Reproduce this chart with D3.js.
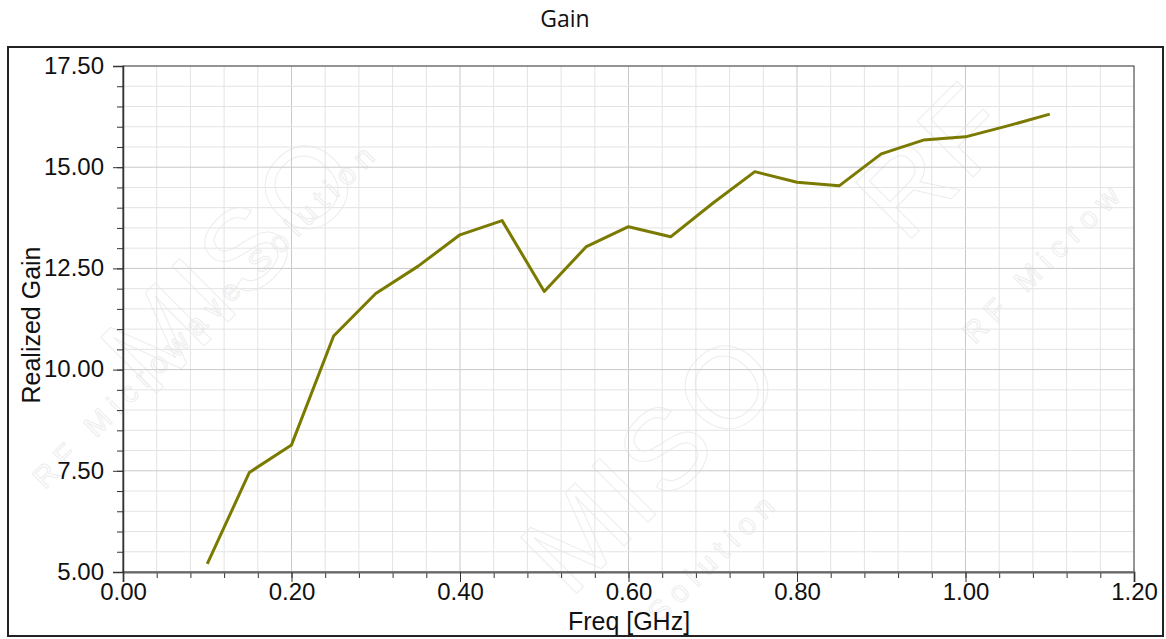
<!DOCTYPE html>
<html>
<head>
<meta charset="utf-8">
<script src="https://cdn.jsdelivr.net/npm/d3@7"></script>
<style>
  body { margin: 0; background: #fff; }
  svg { display: block; }
  .tick text { font-family: "Liberation Sans", Arial, sans-serif; }
</style>
</head>
<body>
<svg id="canvas" width="1166" height="639"></svg>
<script>
"use strict";

// values
const freq = [0.10, 0.15, 0.20, 0.25, 0.30, 0.35, 0.40, 0.45, 0.50, 0.55, 0.60,
              0.65, 0.70, 0.75, 0.80, 0.85, 0.90, 0.95, 1.00, 1.05, 1.10];
const gain = [5.20, 7.46, 8.14, 10.83, 11.88, 12.55, 13.33, 13.68, 11.93, 13.04, 13.53,
              13.28, 14.11, 14.89, 14.63, 14.54, 15.33, 15.67, 15.75, 16.02, 16.31];

const xTicks = [0, 0.2, 0.4, 0.6, 0.8, 1.0, 1.2];
const yTicks = [5, 7.5, 10, 12.5, 15, 17.5];
const xMinor = d3.range(0, 1.2001, 0.04);
const yMinor = d3.range(5, 17.5001, 0.5);

const svg = d3.select('#canvas');

const pLeft = 123, pRight = 1134, pTop = 66, pBottom = 572;
const w = pRight - pLeft, h = pBottom - pTop;

const x = d3.scaleLinear().domain([0, 1.2]).range([pLeft, pRight]);
const y = d3.scaleLinear().domain([5, 17.5]).range([pBottom, pTop]);

// outer frame + title
svg.append('rect')
    .attr('x', 8).attr('y', 47).attr('width', 1155).attr('height', 589)
    .attr('fill', 'none').attr('stroke', '#222').attr('stroke-width', 2);

svg.append('text')
    .attr('x', 565).attr('y', 27)
    .attr('text-anchor', 'middle')
    .style('font-family', '"Open Sans", sans-serif')
    .style('font-size', '23px')
    .attr('fill', '#111')
    .text('Gain');

// faint watermark, kept inside the canvas
const wm = svg.append('g').attr('fill', 'none').attr('stroke', '#ededed').attr('stroke-width', 1)
    .style('font-family', '"Liberation Sans", sans-serif');
const marks = [
    {t: 'RF Microwave Solution', x: 45, y: 490, s: 30},
    {t: 'MISO', x: 150, y: 400, s: 115},
    {t: 'MISO', x: 570, y: 600, s: 115},
    {t: 'Solution', x: 660, y: 625, s: 30},
    {t: 'RF Microw', x: 975, y: 345, s: 30},
    {t: 'RF', x: 905, y: 245, s: 115}
];
wm.selectAll('text').data(marks).enter().append('text')
    .attr('transform', d => `translate(${d.x},${d.y}) rotate(-45)`)
    .style('font-size', d => d.s + 'px')
    .style('letter-spacing', d => d.s < 50 ? '8px' : '4px')
    .text(d => d.t);

// grid
const grid = svg.append('g');
grid.selectAll('.vx').data(xMinor).enter().append('line')
    .attr('x1', d => x(d)).attr('x2', d => x(d))
    .attr('y1', pTop).attr('y2', pBottom)
    .attr('stroke', (d, i) => i % 5 === 0 ? '#c9c9c9' : '#e3e3e3');
grid.selectAll('.hy').data(yMinor).enter().append('line')
    .attr('x1', pLeft).attr('x2', pRight)
    .attr('y1', d => y(d)).attr('y2', d => y(d))
    .attr('stroke', (d, i) => i % 5 === 0 ? '#c9c9c9' : '#e3e3e3');

// plot border top / right
svg.append('rect')
    .attr('x', pLeft).attr('y', pTop).attr('width', w).attr('height', h)
    .attr('fill', 'none').attr('stroke', '#444').attr('stroke-width', 1);

// minor ticks
svg.append('g')
    .attr('transform', `translate(0,${pBottom})`)
    .call(d3.axisBottom(x).tickValues(xMinor).tickSize(6).tickFormat(''))
    .call(g => g.select('.domain').remove())
    .call(g => g.selectAll('line').attr('stroke', '#333'));
svg.append('g')
    .attr('transform', `translate(${pLeft},0)`)
    .call(d3.axisLeft(y).tickValues(yMinor).tickSize(6).tickFormat(''))
    .call(g => g.select('.domain').remove())
    .call(g => g.selectAll('line').attr('stroke', '#333'));

// major axes
svg.append('g')
    .attr('transform', `translate(0,${pBottom})`)
    .call(d3.axisBottom(x).tickValues(xTicks).tickSize(10).tickPadding(1).tickFormat(d3.format('.2f')))
    .call(g => g.select('.domain').attr('stroke', '#666').attr('stroke-width', 2))
    .call(g => g.selectAll('line').attr('stroke', '#333'))
    .call(g => g.selectAll('text').style('font-size', '24px').attr('fill', '#111'));

svg.append('g')
    .attr('transform', `translate(${pLeft},0)`)
    .call(d3.axisLeft(y).tickValues(yTicks).tickSize(10).tickPadding(9).tickFormat(d3.format('.2f')))
    .call(g => g.select('.domain').attr('stroke', '#333').attr('stroke-width', 1.5))
    .call(g => g.selectAll('line').attr('stroke', '#333'))
    .call(g => g.selectAll('text').style('font-size', '24px').attr('fill', '#111').attr('dy', '0.3em'));

// axis titles
svg.append('text')
    .attr('x', 629).attr('y', 630)
    .attr('text-anchor', 'middle')
    .style('font-family', '"Liberation Sans", Arial, sans-serif')
    .style('font-size', '25px')
    .attr('fill', '#111')
    .text('Freq [GHz]');

svg.append('text')
    .attr('transform', 'translate(40,325) rotate(-90)')
    .attr('text-anchor', 'middle')
    .style('font-family', '"Liberation Sans", Arial, sans-serif')
    .style('font-size', '25px')
    .attr('fill', '#111')
    .text('Realized Gain');

// the trace
const line = d3.line()
    .x((d, i) => x(freq[i]))
    .y(d => y(d));

svg.append('path')
    .datum(gain)
    .attr('d', line)
    .attr('fill', 'none')
    .attr('stroke', '#7a7a00')
    .attr('stroke-width', 3)
    .attr('stroke-linejoin', 'round');
</script>
</body>
</html>
